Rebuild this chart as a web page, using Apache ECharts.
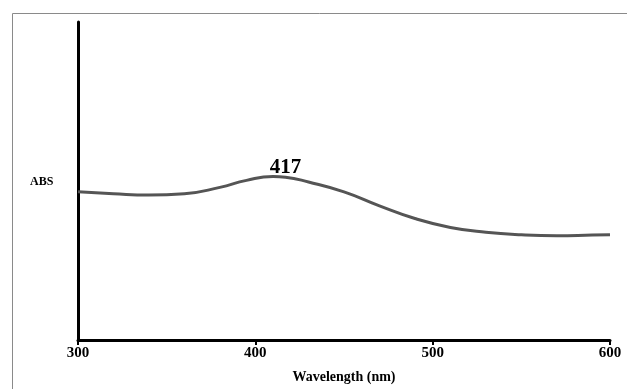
<!DOCTYPE html>
<html>
<head>
<meta charset="utf-8">
<script src="https://cdn.jsdelivr.net/npm/echarts@6/dist/echarts.min.js"></script>
<style>
  html, body { margin: 0; padding: 0; background: #fff; }
  #chart { width: 627px; height: 389px; }
</style>
</head>
<body>
<div id="chart"></div>
<script>
  // wavelength (nm) and absorbance
  const wavelength = [300, 320, 340, 360, 380, 395, 410, 417, 430, 450, 470, 490, 510, 530, 550, 570, 590, 600]
  const absorbance = [0.466, 0.460, 0.456, 0.460, 0.480, 0.502, 0.514, 0.512, 0.497, 0.466, 0.422, 0.382, 0.354, 0.339, 0.331, 0.328, 0.330, 0.331]
  const xTicks = [300, 400, 500, 600]
  const peakLabel = '417'

  const serif = '"Liberation Serif", "DejaVu Serif", serif'
  const chart = echarts.init(document.getElementById('chart'))

  const points = wavelength.map((w, i) => {
    const p = { value: [w, absorbance[i]] }
    if (String(w) === peakLabel) {
      p.label = {
        show: true,
        position: 'top',
        distance: -1,
        formatter: peakLabel,
        fontFamily: serif,
        fontWeight: 'bold',
        fontSize: 21,
        color: '#000'
      }
    }
    return p
  })

  const options = {
    animation: false,
    grid: { left: 78, right: 17, top: 22, bottom: 47 },
    xAxis: {
      type: 'value',
      min: xTicks[0],
      max: xTicks[xTicks.length - 1],
      interval: 100,
      name: 'Wavelength (nm)',
      nameLocation: 'middle',
      nameGap: 30,
      nameTextStyle: { fontFamily: serif, fontWeight: 'bold', fontSize: 14, color: '#000' },
      axisLine: { lineStyle: { color: '#000', width: 3 } },
      axisTick: { show: true, length: 5, lineStyle: { color: '#000', width: 2 } },
      axisLabel: { fontFamily: serif, fontWeight: 'bold', fontSize: 15, color: '#000', margin: 6 },
      splitLine: { show: false }
    },
    yAxis: {
      type: 'value',
      min: 0,
      max: 1,
      axisLine: { show: true, lineStyle: { color: '#000', width: 3 } },
      axisTick: { show: false },
      axisLabel: { show: false },
      splitLine: { show: false }
    },
    graphic: [
      { type: 'line', shape: { x1: 12.5, y1: 13.5, x2: 627, y2: 13.5 }, style: { stroke: '#8a8a8a', lineWidth: 1 } },
      { type: 'line', shape: { x1: 12.5, y1: 13.5, x2: 12.5, y2: 389 }, style: { stroke: '#8a8a8a', lineWidth: 1 } },
      {
        type: 'text', left: 30, top: 176,
        style: { text: 'ABS', fontFamily: serif, fontWeight: 'bold', fontSize: 12, fill: '#000' }
      }
    ],
    series: [
      {
        type: 'line',
        data: points,
        smooth: true,
        showSymbol: true,
        symbol: 'circle',
        symbolSize: 0,
        lineStyle: { color: '#555', width: 3 }
      }
    ]
  }
  chart.setOption(options, true)
</script>
</body>
</html>
